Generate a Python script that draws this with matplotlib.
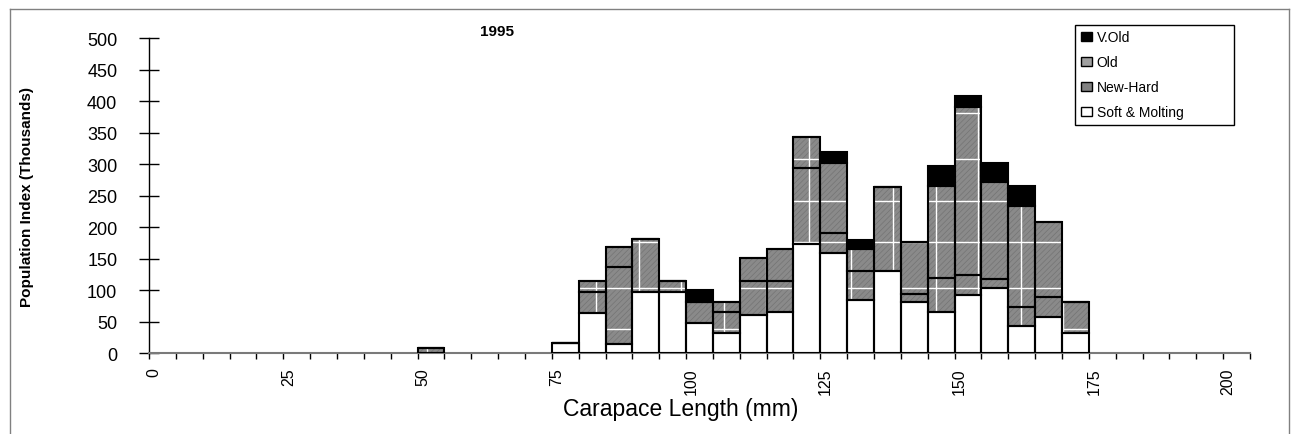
import numpy as np
import matplotlib.pyplot as plt
from matplotlib.lines import Line2D
from matplotlib.patches import Patch
from matplotlib.transforms import ScaledTranslation

plt.rcParams['font.family'] = ['Liberation Sans', 'DejaVu Sans']
plt.rcParams['hatch.linewidth'] = 0.5

# 5 mm carapace-length bins (lower edge), values in thousands
bin_start = [50, 75, 80, 85, 90, 95, 100, 105, 110, 115, 120,
             125, 130, 135, 140, 145, 150, 155, 160, 165, 170]
soft_molting = [0, 16, 64, 15, 98, 98, 48, 32, 61, 65, 173,
                159, 84, 131, 81, 66, 93, 103, 44, 58, 33]
new_hard = [8, 0, 34, 122, 83, 16, 33, 34, 53, 50, 121,
            32, 47, 133, 13, 54, 32, 15, 30, 32, 49]
old = [0, 0, 16, 32, 0, 0, 0, 16, 37, 51, 50,
       111, 35, 0, 83, 146, 266, 154, 160, 119, 0]
v_old = [0, 0, 0, 0, 0, 0, 20, 0, 0, 0, 0,
         18, 14, 0, 0, 31, 18, 30, 32, 0, 0]

series = [
    ("Soft & Molting", soft_molting, "white"),
    ("New-Hard", new_hard, "#8a8a8a"),
    ("Old", old, "#8a8a8a"),
    ("V.Old", v_old, "black"),
]

# white grid texture that Excel's pattern fill leaves inside the grey bars
TEX_Y = [39, 104, 177, 242, 308, 382]
TEX_X = np.arange(51.7, 176, 7.9)

W, H = 1295, 435
fig = plt.figure(figsize=(W / 100, H / 100), dpi=100)
ax = fig.add_axes([149 / W, (H - 354.3) / H, 1101 / W, 315 / H])

x = np.array(bin_start, dtype=float)
bottom = np.zeros(len(x))
for name, vals, color in series:
    vals = np.array(vals, dtype=float)
    grey = color not in ("white", "black")
    fills = ax.bar(x, vals, width=5, bottom=bottom, align='edge',
                   color=color, edgecolor='#747474' if grey else color,
                   linewidth=0, hatch='//////' if grey else None, zorder=1)
    if grey:
        for patch, v in zip(fills.patches, vals):
            if v <= 0:
                continue
            hl = ax.hlines(TEX_Y, 0, 205, colors='white', linewidth=1.0, zorder=2)
            vl = ax.vlines(TEX_X, 0, 500, colors='white', linewidth=1.0, zorder=2)
            hl.set_clip_path(patch)
            vl.set_clip_path(patch)
    ax.bar(x, vals, width=5, bottom=bottom, align='edge',
           facecolor='none', edgecolor='black', linewidth=1.5, zorder=3)
    bottom += vals

ax.set_xlim(0, 205)
ax.set_ylim(0, 500)

for side in ("top", "right"):
    ax.spines[side].set_visible(False)
ax.spines['bottom'].set_color('#7a7a7a')
ax.spines['bottom'].set_linewidth(1.5)
ax.spines['left'].set_color('black')
ax.spines['left'].set_linewidth(1.0)

ax.set_xticks(np.arange(0, 201, 25))
ax.set_xticks(np.arange(0, 206, 5), minor=True)
ax.tick_params(axis='x', which='both', direction='out', length=4, width=1,
               colors='black', labelsize=11.5, pad=6, labelrotation=90)
ax.set_yticks(np.arange(0, 501, 50))
ax.tick_params(axis='y', direction='inout', length=13.7, width=1,
               labelsize=13, pad=16)

offset = ScaledTranslation(5 / 100, 0, fig.dpi_scale_trans)
for lab in ax.get_xticklabels():
    lab.set_transform(lab.get_transform() + offset)

ax.set_ylabel("Population Index (Thousands)", fontsize=11, fontweight='bold')
ax.yaxis.set_label_coords((34 - 149) / 1101, 0.5)
ax.set_xlabel("Carapace Length (mm)", fontsize=16.5)
ax.xaxis.set_label_coords((681 - 149) / 1101, -0.14)

fig.text(497 / W, 1 - 31.5 / H, "1995", fontsize=11, fontweight='bold',
         ha='center', va='center')

handles = [
    Patch(facecolor='black', edgecolor='black', label='V.Old'),
    Patch(facecolor='#a0a0a0', edgecolor='black', label='Old'),
    Patch(facecolor='#808080', edgecolor='black', label='New-Hard'),
    Patch(facecolor='white', edgecolor='black', label='Soft & Molting'),
]
leg = fig.legend(handles=handles, loc='upper left',
                 bbox_to_anchor=(1075 / W, 1 - 26 / H, 159 / W, 0.001),
                 mode='expand', fontsize=10, frameon=True, fancybox=False,
                 edgecolor='black', framealpha=1, borderpad=0.4,
                 labelspacing=0.8, handlelength=0.8, handleheight=0.6,
                 handletextpad=0.35, borderaxespad=0)
leg.get_frame().set_linewidth(1.0)

# thin grey frame around the chart area
bx0, bx1, by = 10 / W, 1289 / W, 1 - 10 / H
for xs, ys in [([bx0, bx0], [0, by]), ([bx0, bx1], [by, by]), ([bx1, bx1], [0, by])]:
    fig.add_artist(Line2D(xs, ys, transform=fig.transFigure, color='#808080', linewidth=1))

fig.savefig("out.png", dpi=100)
